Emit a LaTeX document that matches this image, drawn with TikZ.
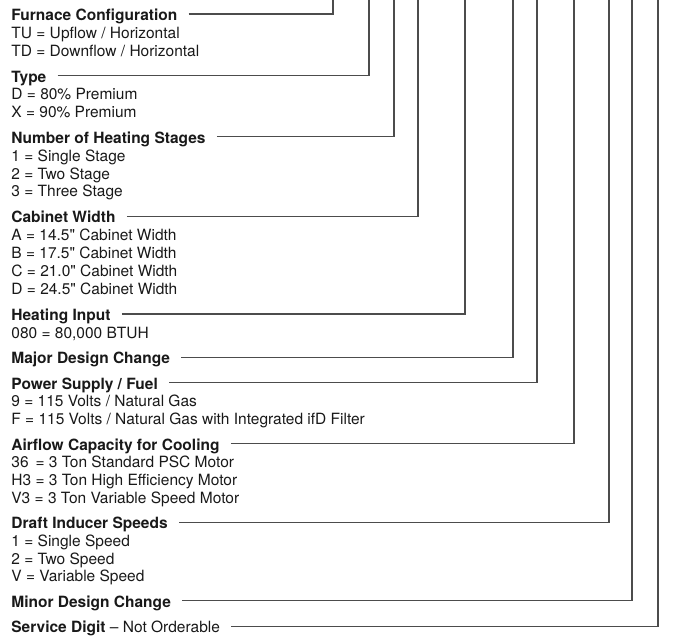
\documentclass[tikz,border=0pt]{standalone}
\usepackage{fontspec}
\setmainfont{TeX Gyre Heros}
\usepackage{tikz}
\usetikzlibrary{calc}
\newcommand\keyfont[0]{\fontsize{7.75pt}{9pt}\selectfont}
\newcommand\inch[0]{\textquotedbl}

\tikzset{
  head/.style={anchor=base west, inner sep=0pt, text=black!90, font=\keyfont\bfseries},
  entry/.style={anchor=base west, inner sep=0pt, text=black!90, font=\keyfont},
  leader/.style={draw=black!70, line width=0.65pt},
}

\begin{document}
\begin{tikzpicture}[x=0.5pt, y=-0.5pt]

\useasboundingbox (0,0) rectangle (674,637);

\node[head] (furnace) at (11,20.5) {Furnace Configuration};
\node[entry] (tu) at (11,38.4) {TU = Upflow / Horizontal};
\node[entry] (td) at (11,56.2) {TD = Downflow / Horizontal};

\node[head] (type) at (11,82) {Type};
\node[entry] (typed) at (11,99.9) {D = 80\% Premium};
\node[entry] (typex) at (11,117.5) {X = 90\% Premium};

\node[head] (stages) at (11,143.3) {Number of Heating Stages};
\node[entry] (stage1) at (11,161.2) {1 = Single Stage};
\node[entry] (stage2) at (11,179) {2 = Two Stage};
\node[entry] (stage3) at (11,196.9) {3 = Three Stage};

\node[head] (cabinet) at (11,222.7) {Cabinet Width};
\node[entry] (cabA) at (11,240.5) {A = 14.5\inch{} Cabinet Width};
\node[entry] (cabB) at (11,258.4) {B = 17.5\inch{} Cabinet Width};
\node[entry] (cabC) at (11,276.2) {C = 21.0\inch{} Cabinet Width};
\node[entry] (cabD) at (11,294.1) {D = 24.5\inch{} Cabinet Width};

\node[head] (input) at (11,320.5) {Heating Input};
\node[entry] (btuh) at (11,338.2) {080 = 80,000 BTUH};

\node[head] (major) at (11,363.7) {Major Design Change};

\node[head] (power) at (11,389.3) {Power Supply / Fuel};
\node[entry] (pow9) at (11,406.9) {9 = 115 Volts / Natural Gas};
\node[entry] (powF) at (11,424.6) {F = 115 Volts / Natural Gas with Integrated ifD Filter};

\node[head] (airflow) at (11,450.1) {Airflow Capacity for Cooling};
\node[entry] (air36) at (11,467.8) {36 \,= 3 Ton Standard PSC Motor};
\node[entry] (airH3) at (11,485.5) {H3 = 3 Ton High Efficiency Motor};
\node[entry] (airV3) at (11,503.2) {V3 = 3 Ton Variable Speed Motor};

\node[head] (draft) at (11,528.7) {Draft Inducer Speeds};
\node[entry] (draft1) at (11,546.4) {1 = Single Speed};
\node[entry] (draft2) at (11,564) {2 = Two Speed};
\node[entry] (draftV) at (11,581.7) {V = Variable Speed};

\node[head] (minor) at (11,607.3) {Minor Design Change};

\node[head] (service) at (11,632.8) {Service Digit \mdseries -- Not Orderable};

% leaders up to the model number
\draw[leader] ([shift={(5.5pt,3.25pt)}]furnace.base east) -| (333,0);
\draw[leader] ([shift={(5.5pt,3.25pt)}]type.base east) -| (369,0);
\draw[leader] ([shift={(5.5pt,3.25pt)}]stages.base east) -| (394,0);
\draw[leader] ([shift={(5.5pt,3.25pt)}]cabinet.base east) -| (418,0);
\draw[leader] ([shift={(5.5pt,3.25pt)}]input.base east) -| (465,0);
\draw[leader] ([shift={(5.5pt,3.25pt)}]major.base east) -| (513,0);
\draw[leader] ([shift={(5.5pt,3.25pt)}]power.base east) -| (537,0);
\draw[leader] ([shift={(5.5pt,3.25pt)}]airflow.base east) -| (574,0);
\draw[leader] ([shift={(5.5pt,3.25pt)}]draft.base east) -| (609,0);
\draw[leader] ([shift={(5.5pt,3.25pt)}]minor.base east) -| (632,0);
\draw[leader] ([shift={(5.5pt,3.25pt)}]service.base east) -| (658,0);

\end{tikzpicture}
\end{document}
